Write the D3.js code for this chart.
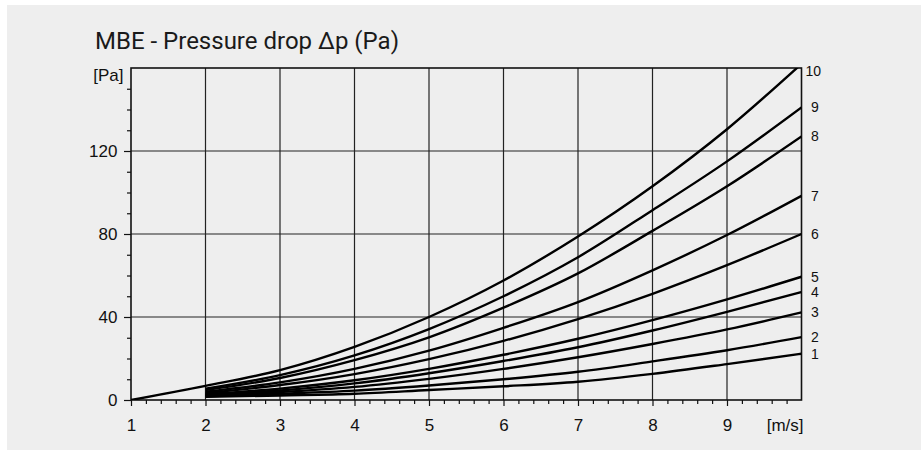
<!DOCTYPE html>
<html>
<head>
<meta charset="utf-8">
<script src="https://cdn.jsdelivr.net/npm/d3@7"></script>
<style>
  body { margin: 0; background: #fff; }
  svg { display: block; }
</style>
</head>
<body>
<svg id="chart" width="921" height="450"></svg>
<script>
// air velocity [m/s]
const velocity = [2, 3, 4, 5, 6, 7, 8, 9, 10];
const velocity10 = [1, 2, 3, 4, 5, 6, 7, 8, 9, 10];

// pressure drop [Pa] per size curve
const curve1 = [1.5, 2.2, 3.0, 4.8, 6.6, 8.8, 12.6, 17.3, 22.3];
const curve2 = [1.8, 3.0, 4.5, 7.0, 10.0, 13.6, 18.6, 24.0, 30.3];
const curve3 = [2.2, 3.8, 6.3, 10.2, 15.0, 20.6, 27.0, 34.0, 42.2];
const curve4 = [2.5, 4.6, 8.0, 12.9, 18.8, 25.4, 33.5, 42.5, 52.0];
const curve5 = [2.8, 5.5, 9.5, 15.0, 21.8, 29.5, 38.5, 48.5, 59.4];
const curve6 = [3.4, 7.2, 12.5, 19.7, 28.5, 39.0, 51.2, 65.0, 80.0];
const curve7 = [4.0, 8.5, 15.0, 23.8, 34.8, 47.2, 62.5, 79.5, 98.4];
const curve8 = [4.8, 10.6, 19.2, 30.2, 44.5, 61.0, 81.5, 103.0, 127.0];
const curve9 = [5.4, 12.0, 21.5, 34.2, 50.0, 68.8, 91.5, 115.0, 141.0];
const curve10 = [0, 6.8, 14.4, 25.6, 40.0, 57.6, 78.8, 103.0, 130.5, 162.0];

const curveNames = ["1", "2", "3", "4", "5", "6", "7", "8", "9", "10"];
const xTickValues = [1, 2, 3, 4, 5, 6, 7, 8, 9];
const yTickValues = [0, 40, 80, 120];

const series = [curve1, curve2, curve3, curve4, curve5, curve6, curve7, curve8, curve9]
  .map((vals, i) => ({ name: curveNames[i], pts: vals.map((v, j) => [velocity[j], v]) }));
series.push({ name: curveNames[9], pts: curve10.map((v, j) => [velocity10[j], v]) });

const svg = d3.select("#chart");

// gray panel
svg.append("rect")
  .attr("x", 7).attr("y", 5)
  .attr("width", 914).attr("height", 445)
  .attr("fill", "#eeeeee");

const x = d3.scaleLinear().domain([1, 10]).range([131, 801.5]);
const y = d3.scaleLinear().domain([0, 160]).range([400, 68]);

svg.append("text")
  .attr("x", 95).attr("y", 49)
  .attr("font-family", "Roboto, sans-serif")
  .attr("font-size", 24)
  .attr("fill", "#1a1a1a")
  .text("MBE - Pressure drop Δp (Pa)");

// grid
const grid = svg.append("g").attr("stroke", "#222").attr("stroke-width", 1.2);
grid.selectAll("line.v")
  .data(d3.range(2, 10))
  .join("line")
  .attr("x1", d => x(d)).attr("x2", d => x(d))
  .attr("y1", y(0)).attr("y2", y(160));
grid.selectAll("line.h")
  .data([40, 80, 120])
  .join("line")
  .attr("class", "h")
  .attr("x1", x(1)).attr("x2", x(10))
  .attr("y1", d => y(d)).attr("y2", d => y(d));

// axes
const fontAxis = "Liberation Sans, Arial, sans-serif";

const xAxis = svg.append("g")
  .attr("transform", `translate(0,${y(0)})`)
  .call(d3.axisBottom(x).tickValues(xTickValues).tickSize(6).tickPadding(12.5).tickFormat(d3.format("d")));
const xMinor = svg.append("g")
  .attr("transform", `translate(0,${y(0)})`)
  .call(d3.axisBottom(x)
    .tickValues(d3.range(1, 10, 0.2).filter(v => Math.abs(v - Math.round(v)) > 0.01))
    .tickSize(4).tickFormat(""));

const yAxis = svg.append("g")
  .attr("transform", `translate(${x(1)},0)`)
  .call(d3.axisLeft(y).tickValues(yTickValues).tickSize(7).tickPadding(6.6));
const yMinor = svg.append("g")
  .attr("transform", `translate(${x(1)},0)`)
  .call(d3.axisLeft(y)
    .tickValues(d3.range(10, 160, 10).filter(v => v % 40 !== 0))
    .tickSize(4).tickFormat(""));

[xAxis, xMinor, yAxis, yMinor].forEach(g => {
  g.select(".domain").remove();
  g.selectAll(".tick line").attr("stroke", "#111").attr("stroke-width", 1.2);
  g.selectAll("text")
    .attr("font-family", fontAxis)
    .attr("font-size", 17)
    .attr("fill", "#111");
});

// frame
svg.append("rect")
  .attr("x", x(1)).attr("y", y(160))
  .attr("width", x(10) - x(1)).attr("height", y(0) - y(160))
  .attr("fill", "none")
  .attr("stroke", "#111")
  .attr("stroke-width", 1.6);

svg.append("text")
  .attr("x", 123.5).attr("y", 81)
  .attr("text-anchor", "end")
  .attr("font-family", fontAxis).attr("font-size", 17).attr("fill", "#111")
  .text("[Pa]");
svg.append("text")
  .attr("x", 803.5).attr("y", 431)
  .attr("text-anchor", "end")
  .attr("font-family", fontAxis).attr("font-size", 17).attr("fill", "#111")
  .text("[m/s]");

// curves
svg.append("clipPath").attr("id", "plotclip")
  .append("rect")
  .attr("x", x(1)).attr("y", y(160))
  .attr("width", x(10) - x(1)).attr("height", y(0) - y(160));

const line = d3.line()
  .x(d => x(d[0]))
  .y(d => y(d[1]))
  .curve(d3.curveMonotoneX);

svg.append("g")
  .attr("clip-path", "url(#plotclip)")
  .selectAll("path")
  .data(series)
  .join("path")
  .attr("d", d => line(d.pts))
  .attr("fill", "none")
  .attr("stroke", "#000")
  .attr("stroke-width", 2.4);

// curve labels at the right end
svg.append("g")
  .selectAll("text")
  .data(series)
  .join("text")
  .attr("x", d => d.name === "10" ? x(10) + 4 : x(10) + 9.5)
  .attr("y", d => y(Math.min(d.pts[d.pts.length - 1][1], 158.5)))
  .attr("dy", "0.35em")
  .attr("font-family", fontAxis)
  .attr("font-size", 14)
  .attr("fill", "#111")
  .text(d => d.name);
</script>
</body>
</html>
